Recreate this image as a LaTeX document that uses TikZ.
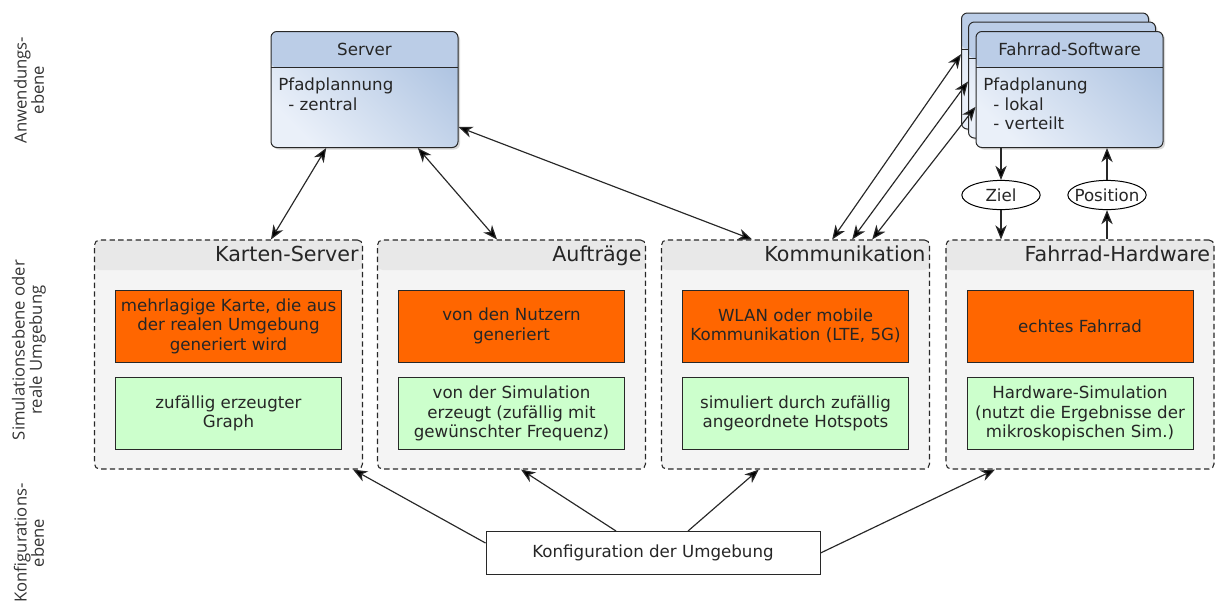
\documentclass[tikz,border=0pt]{standalone}
\usepackage{fontspec}
\setmainfont{DejaVu Sans}
\newfontfamily\layerfont{Open Sans}
\usetikzlibrary{arrows.meta,shapes.geometric,shadows}
\definecolor{app_light}{RGB}{234,240,249}
\definecolor{app_dark}{RGB}{176,197,226}
\definecolor{app_head}{RGB}{187,205,231}
\definecolor{edge_dark}{RGB}{40,40,40}
\definecolor{group_fill}{RGB}{244,244,244}
\definecolor{group_head}{RGB}{232,232,232}
\definecolor{real_orange}{RGB}{255,102,0}
\definecolor{sim_green}{RGB}{204,255,204}

\begin{document}
\begin{tikzpicture}[x=0.6pt,y=-0.6pt,>={Stealth[length=8.5pt,width=6.8pt,inset=2.6pt]}]
    \tikzstyle{layer}=[rotate=90,align=center,text=black!80,font=\layerfont\fontsize{10}{10.4}\selectfont]
    \tikzstyle{appbox}=[draw=edge_dark,line width=0.6pt,rounded corners=3.5pt,minimum width=112.2pt,minimum height=69.6pt,
      top color=app_dark,bottom color=app_light,shading angle=-45,
      drop shadow={shadow xshift=1.2pt,shadow yshift=-1.2pt,opacity=0.3},
      path picture={
        \fill[app_head] (path picture bounding box.north west) rectangle ([yshift=-21.6pt]path picture bounding box.north east);
        \draw[edge_dark,line width=0.6pt] ([yshift=-21.6pt]path picture bounding box.north west) -- ([yshift=-21.6pt]path picture bounding box.north east);
      }]
    \tikzstyle{apptitle}=[text=black!85]
    \tikzstyle{appbody}=[anchor=north west,align=left,inner sep=3pt,text=black!85,font=\fontsize{10}{11.7}\selectfont]
    \tikzstyle{group}=[draw=edge_dark,line width=0.65pt,dash pattern=on 3.2pt off 2pt,rounded corners=3pt,fill=group_fill,
      minimum width=160.8pt,minimum height=137.4pt,
      path picture={
        \fill[group_head] (path picture bounding box.north west) rectangle ([yshift=-18pt]path picture bounding box.north east);
      }]
    \tikzstyle{grouptitle}=[anchor=base east,inner sep=1pt,text=black!85,font=\fontsize{12.4}{14}\selectfont]
    \tikzstyle{real}=[draw=edge_dark,line width=0.6pt,fill=real_orange,minimum width=135.6pt,minimum height=43.2pt,
      align=center,text=black!85,font=\fontsize{10}{11.7}\selectfont]
    \tikzstyle{sim}=[style=real,fill=sim_green]
    \tikzstyle{msg}=[ellipse,draw=black,line width=0.6pt,fill=white,inner xsep=-3.5pt,inner ysep=0pt,
      minimum width=47pt,minimum height=17.5pt,text=black!85]
    \tikzstyle{config}=[draw=edge_dark,line width=0.6pt,fill=white,minimum width=200.4pt,minimum height=25.8pt,text=black!85]
    \tikzstyle{conn}=[draw=edge_dark,line width=0.7pt]

    \useasboundingbox (0,0) rectangle (1219,606);

    % ebenen
    \node[layer] (lyapp) at (29,90)  {Anwendungs-\\ebene};
    \node[layer] (lysim) at (29,350) {Simulationsebene oder\\reale Umgebung};
    \node[layer] (lycfg) at (29,543) {Konfigurations-\\ebene};

    % anwendungsebene
    \node[appbox] (srv) at (364.5,89.5) {};
    \node[apptitle] (srvttl) at ([yshift=-10.8pt]srv.north) {Server};
    \node[appbody] (srvtxt) at ([xshift=1.5pt,yshift=-25pt]srv.north west) {Pfadplannung\\\hspace*{0.6em}- zentral};

    \node[appbox] (sw3) at (1055,71)   {};
    \node[appbox] (sw2) at (1062,80)   {};
    \node[appbox] (sw1) at (1069.5,89.5) {};
    \node[apptitle] (swttl) at ([yshift=-10.8pt]sw1.north) {Fahrrad-Software};
    \node[appbody] (swtxt) at ([xshift=1.5pt,yshift=-25pt]sw1.north west) {Pfadplanung\\\hspace*{0.6em}- lokal\\\hspace*{0.6em}- verteilt};

    \node[msg] (ziel) at (1001,195) {Ziel};
    \node[msg] (pos)  at (1107,195) {Position};

    % simulationsebene
    \node[group] (ks)  at (228.5,354.5) {};
    \node[group] (auf) at (511.5,354.5) {};
    \node[group] (kom) at (795.5,354.5) {};
    \node[group] (fh)  at (1080,354.5)  {};
    \node[grouptitle] (ksttl)  at ([xshift=-1.5pt,yshift=-13.2pt]ks.north east)  {Karten-Server};
    \node[grouptitle] (aufttl) at ([xshift=-1.5pt,yshift=-13.2pt]auf.north east) {Aufträge};
    \node[grouptitle] (komttl) at ([xshift=-1.5pt,yshift=-13.2pt]kom.north east) {Kommunikation};
    \node[grouptitle] (fhttl)  at ([xshift=-1.5pt,yshift=-13.2pt]fh.north east)  {Fahrrad-Hardware};

    \node[real] (ksreal)  at (228.5,326) {mehrlagige Karte, die aus\\der realen Umgebung\\generiert wird};
    \node[sim]  (kssim)   at (228.5,413.5) {zufällig erzeugter\\Graph};
    \node[real] (aufreal) at (511.5,326) {von den Nutzern\\generiert};
    \node[sim]  (aufsim)  at (511.5,413.5) {von der Simulation\\erzeugt (zufällig mit\\gewünschter Frequenz)};
    \node[real] (komreal) at (795.5,326) {WLAN oder mobile\\Kommunikation (LTE, 5G)};
    \node[sim]  (komsim)  at (795.5,413.5) {simuliert durch zufällig\\angeordnete Hotspots};
    \node[real] (fhreal)  at (1080,326) {echtes Fahrrad};
    \node[sim]  (fhsim)   at (1080,413.5) {Hardware-Simulation\\(nutzt die Ergebnisse der\\mikroskopischen Sim.)};

    % konfigurationsebene
    \node[config] (cfg) at (653,553) {Konfiguration der Umgebung};

    \path[conn]
     ([xshift=-23pt]srv.south) edge[<->] ([xshift=25.5pt]ks.north)
     ([xshift=32pt]srv.south) edge[<->] ([xshift=-8.7pt]auf.north)
     ([yshift=-22.5pt]srv.east) edge[<->] ([xshift=-26pt]kom.north)
     ([xshift=22pt]kom.north) edge[<->] ([yshift=-25pt]sw3.north west)
     ([xshift=34pt]kom.north) edge[<->] ([yshift=-36pt]sw2.north west)
     ([xshift=46pt]kom.north) edge[<->] ([yshift=-45.5pt]sw1.north west)
     (ziel.north |- sw1.south) edge[->] (ziel.north)
     (ziel.south) edge[->] (ziel.south |- fh.north)
     (pos.south |- fh.north) edge[->] (pos.south)
     (pos.north) edge[->] (pos.north |- sw1.south)
     ([yshift=6pt]cfg.west) edge[->] ([xshift=-6pt]ks.south east)
     ([xshift=-22.2pt]cfg.north) edge[->] ([xshift=5.7pt]auf.south)
     ([xshift=21pt]cfg.north) edge[->] ([xshift=-22pt]kom.south)
     (cfg.east) edge[->] ([xshift=-51pt]fh.south);
\end{tikzpicture}
\end{document}
